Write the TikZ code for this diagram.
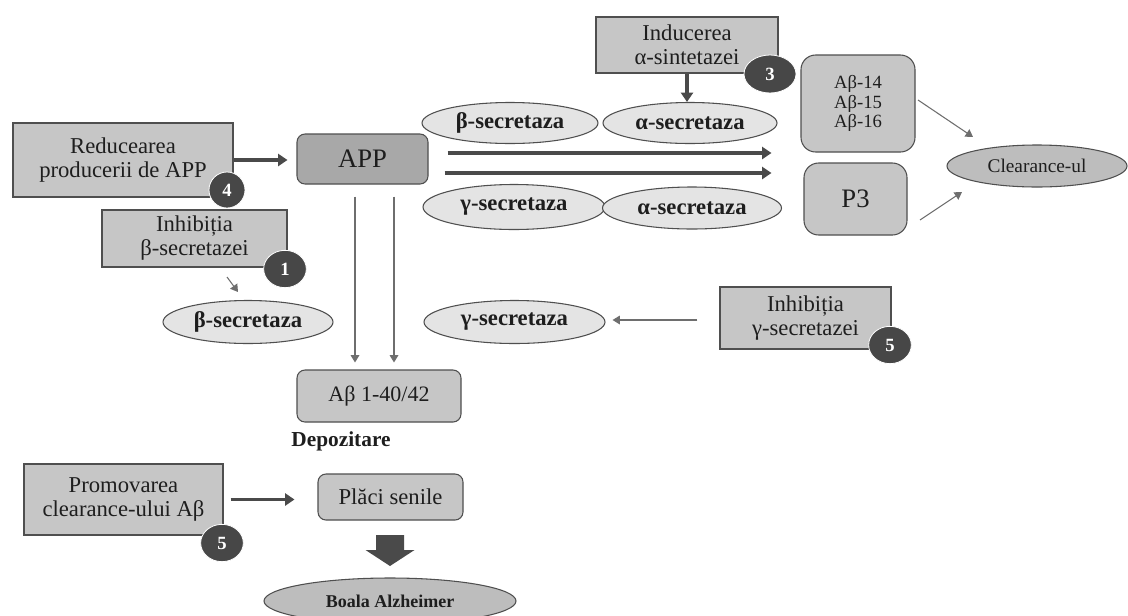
\documentclass[tikz,border=0pt]{standalone}
\usepackage{fontspec}
\setmainfont{Liberation Serif}
\usetikzlibrary{shapes.geometric,arrows.meta}
\definecolor{boxfill}{HTML}{C6C6C6}
\definecolor{boxline}{HTML}{4F4F4F}
\definecolor{appfill}{HTML}{A8A8A8}
\definecolor{ellfill}{HTML}{E4E4E4}
\definecolor{darkfill}{HTML}{BDBDBD}
\definecolor{badgefill}{HTML}{474747}
\definecolor{thickcol}{HTML}{4A4A4A}
\definecolor{thincol}{HTML}{6E6E6E}
\definecolor{txt}{HTML}{1E1E1E}
\begin{document}
\begin{tikzpicture}[x=0.75pt,y=-0.75pt,
  box/.style={draw=boxline, fill=boxfill, line width=0.8pt, inner sep=0pt, align=center, text=txt,
    font=\fontsize{17}{18}\selectfont},
  rbox/.style={box, rounded corners=6pt},
  ell/.style={ellipse, draw=boxline, fill=ellfill, line width=0.8pt, inner sep=0pt, text=txt,
    font=\bfseries\fontsize{17}{18}\selectfont},
  badge/.style={ellipse, fill=badgefill, draw=white, line width=0.6pt, inner sep=0pt, text=white,
    minimum width=32pt, minimum height=28pt, font=\bfseries\fontsize{14}{16}\selectfont},
  thickarr/.style={draw=thickcol, line width=3pt, -{Triangle[width=9pt,length=7pt]}},
  thinarr/.style={draw=thincol, line width=0.8pt, -{Triangle[width=6.5pt,length=5.5pt]}},
]
\fill[white] (0,0) rectangle (1128,615);
\useasboundingbox (0,0) rectangle (1128,615);
\clip (0,0) rectangle (1128,615);

% nodes
\node[box, minimum width=165pt, minimum height=55.5pt] (red) at (123,160) {Reducearea\\producerii de APP};
\node[rbox, fill=appfill, minimum width=98.25pt, minimum height=37.5pt, font=\fontsize{20}{22}\selectfont] (app) at (362.5,159) {APP};
\node[box, minimum width=138.75pt, minimum height=42.75pt] (inhb) at (194.5,238.5) {Inhibiția\\β-secretazei};
\node[box, minimum width=136.5pt, minimum height=42pt] (ind) at (687,45) {Inducerea\\α-sintetazei};
\node[ell, minimum width=132pt, minimum height=30.75pt] (bs1) at (510,123) {β-secretaza};
\node[ell, minimum width=130.5pt, minimum height=30.75pt] (as1) at (690,123) {α-secretaza};
\node[ell, minimum width=136.5pt, minimum height=33.75pt] (gs1) at (514,207) {γ-secretaza};
\node[ell, minimum width=134.25pt, minimum height=31.5pt] (as2) at (692,208) {α-secretaza};
\node[rbox, rounded corners=11pt, minimum width=85.5pt, minimum height=72.75pt, font=\fontsize{14}{14.5}\selectfont] (ab14) at (858,103.5) {Aβ-14\\Aβ-15\\Aβ-16};
\node[rbox, rounded corners=11pt, minimum width=77.25pt, minimum height=54pt, font=\fontsize{20}{22}\selectfont] (p3) at (855.5,199) {P3};
\node[ell, fill=darkfill, minimum width=135pt, minimum height=31.5pt, font=\fontsize{14.5}{16}\selectfont] (clr) at (1037,166) {Clearance-ul};
\node[ell, minimum width=127.5pt, minimum height=32.25pt] (bs2) at (248,322) {β-secretaza};
\node[ell, minimum width=135.75pt, minimum height=32.25pt] (gs2) at (514.5,322) {γ-secretaza};
\node[box, minimum width=128.25pt, minimum height=46.5pt] (inhg) at (805.5,318) {Inhibiția\\γ-secretazei};
\node[rbox, minimum width=123pt, minimum height=39pt, font=\fontsize{16.5}{18}\selectfont] (abeta) at (379,396) {Aβ 1-40/42};
\node[text=txt, inner sep=0pt, font=\bfseries\fontsize{16}{18}\selectfont] (dep) at (341,441) {Depozitare};
\node[box, minimum width=149.25pt, minimum height=53.25pt] (prom) at (123.5,499.5) {Promovarea\\clearance-ului Aβ};
\node[rbox, minimum width=108.75pt, minimum height=34.5pt] (plac) at (390.5,497) {Plăci senile};
\node[ell, fill=darkfill, minimum width=189pt, minimum height=34.5pt, font=\bfseries\fontsize{13.5}{15}\selectfont] (boala) at (390,601) {Boala Alzheimer};

% badges
\node[badge, minimum width=27pt, minimum height=27pt] (b4) at (227,190) {4};
\node[badge] (b1) at (285,269) {1};
\node[badge, minimum width=39pt, minimum height=28.5pt] (b3) at (770,74) {3};
\node[badge] (b5a) at (890,345) {5};
\node[badge] (b5b) at (222,543) {5};

% thick connectors
\draw[thickarr, shorten >=6.75pt] (red.east) -- (red.east -| app.west);
\draw[thickarr, line width=2.6pt] (ind.south) -- (ind.south |- as1.north);
\draw[thickarr, shorten <=14.25pt, shorten >=21.75pt] ([yshift=4.5pt]app.east) -- ([yshift=4.5pt]app.east -| ab14.west);
\draw[thickarr, shorten <=12pt, shorten >=24pt] ([yshift=-10.5pt]app.east) -- ([yshift=-10.5pt]app.east -| p3.west);
\draw[thickarr, line width=2.2pt, shorten <=5.25pt, shorten >=17.25pt] (prom.east) -- (prom.east -| plac.west);

% thin connectors
\coordinate (c1s) at (918,100);
\coordinate (c1e) at (973,137);
\coordinate (c2s) at (920,220);
\coordinate (c2e) at (962,192);
\coordinate (c3s) at (227,277);
\coordinate (c3e) at (238,292);
\coordinate (v1) at (355,0);
\coordinate (v2) at (394,0);
\draw[thinarr] (c1s) -- (c1e);
\draw[thinarr] (c2s) -- (c2e);
\draw[thinarr] (c3s) -- (c3e);
\draw[thinarr, shorten <=9pt, shorten >=5.25pt] (app.south -| v1) -- (abeta.north -| v1);
\draw[thinarr, shorten <=9pt, shorten >=5.25pt] (app.south -| v2) -- (abeta.north -| v2);
\draw[thinarr, shorten <=16.5pt, shorten >=5.25pt] ([yshift=-1.5pt]inhg.west) -- ([yshift=-1.5pt]inhg.west -| gs2.east);

% big down arrow
\coordinate (bat) at (390,535);
\fill[thickcol] (bat) ++(-14,0) -- ++(28,0) -- ++(0,15) -- ++(10.5,0) -- ++(-24.5,16) -- ++(-24.5,-16) -- ++(10.5,0) -- cycle;
\end{tikzpicture}
\end{document}
